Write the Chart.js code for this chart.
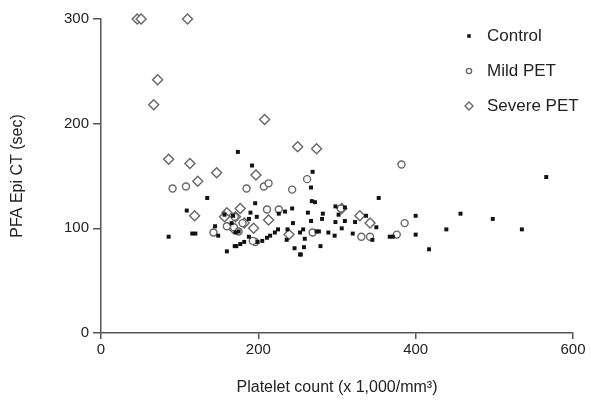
<!DOCTYPE html>
<html>
<head>
<meta charset="utf-8">
<script src="https://cdn.jsdelivr.net/npm/chart.js@4.4.0/dist/chart.umd.min.js"></script>
<style>
  body { margin: 0; background: #fff; }
  #wrap { width: 591px; height: 400px; }
</style>
</head>
<body>
<div id="wrap"><canvas id="mycanvas" width="591" height="400"></canvas></div>
<script>
// values: [platelet count, PFA Epi CT]
var controlPts = [
  [174,173],[192,160],[135,129],[109,117],[86,92],[116,95],[120,95],[145,102],[149,93],
  [157,113],[172,83],[160,78],[269,154],[267,139],[196,124],[268,126],[272,125],[353,129],
  [243,119],[298,121],[310,120],[566,149],[400,112],[457,114],[498,109],[439,99],[535,99],
  [400,94],[417,80],[371,92],[263,115],[282,114],[302,113],[323,106],[337,112],[350,101],
  [267,107],[281,109],[298,106],[310,107],[306,100],[257,99],[274,97],[277,97],[289,96],
  [297,93],[320,95],[345,89],[367,92],[259,90],[279,83],[258,82],[253,75],[190,115],
  [198,111],[168,112],[166,105],[188,109],[226,114],[234,116],[244,105],[253,96],[237,99],
  [225,99],[221,96],[215,93],[211,91],[205,88],[199,87],[188,92],[182,87],[177,85],
  [170,83],[254,75],[246,81],[236,89],[171,96],[175,97]
];
var mildPts = [
  [91,138],[108,140],[143,96],[170,111],[169,101],[185,138],[207,140],[213,143],[243,137],
  [262,147],[211,118],[226,118],[305,119],[269,96],[196,87],[180,105],[331,92],[342,92],
  [376,94],[382,161],[386,105],[160,102],[175,97],[193,88]
];
var severePts = [
  [46,300],[51,300],[110,300],[72,242],[67,218],[208,204],[86,166],[113,162],[147,153],
  [123,145],[250,178],[274,176],[197,151],[119,112],[160,115],[177,119],[171,111],[194,100],
  [213,108],[239,94],[306,119],[329,112],[342,105],[182,105],[168,100],[157,111]
];
var seriesNames = ['Control', 'Mild PET', 'Severe PET'];
var xTicks = [0, 200, 400, 600];
var yTicks = [0, 100, 200, 300];

function toXY(list) {
  return list.map(function(p){ return {x: p[0], y: p[1]}; });
}

// legend drawn inside the plot, top right
var legendSizes = [2.5, 2.6, 4];
var innerLegend = {
  id: 'innerLegend',
  afterDraw: function(chart) {
    var ctx = chart.ctx;
    ctx.save();
    ctx.font = '17px "Liberation Sans", Arial, sans-serif';
    ctx.textBaseline = 'middle';
    chart.data.datasets.forEach(function(ds, i){
      var y = 36 + i * 35;
      ctx.fillStyle = ds.pointBackgroundColor;
      ctx.strokeStyle = ds.pointBorderColor;
      ctx.lineWidth = ds.pointBorderWidth;
      Chart.helpers.drawPoint(ctx, {pointStyle: ds.pointStyle, radius: legendSizes[i], borderWidth: ds.pointBorderWidth}, 469, y);
      ctx.fillStyle = '#222';
      ctx.fillText(seriesNames[i], 487, y);
    });
    ctx.restore();
  }
};

var ctx = document.getElementById('mycanvas');
var chart = new Chart(ctx, {
  type: 'scatter',
  data: {
    datasets: [{
      label: seriesNames[0],
      data: toXY(controlPts),
      pointStyle: 'rect',
      pointRadius: 2.8,
      pointBackgroundColor: '#111',
      pointBorderColor: '#111',
      pointBorderWidth: 0
    }, {
      label: seriesNames[1],
      data: toXY(mildPts),
      pointStyle: 'circle',
      pointRadius: 3.5,
      pointBackgroundColor: '#fff',
      pointBorderColor: '#666',
      pointBorderWidth: 1.4
    }, {
      label: seriesNames[2],
      data: toXY(severePts),
      pointStyle: 'rectRot',
      pointRadius: 5,
      pointBackgroundColor: '#fff',
      pointBorderColor: '#666',
      pointBorderWidth: 1.4
    }]
  },
  options: {
    responsive: false,
    animation: false,
    clip: false,
    layout: { padding: { left: 0, right: 18, top: 19, bottom: 0 } },
    plugins: { legend: { display: false }, tooltip: { enabled: false } },
    scales: {
      x: {
        type: 'linear', min: 0, max: 600,
        afterBuildTicks: function(s){ s.ticks = xTicks.map(function(v){ return {value: v}; }); },
        afterFit: function(s){ s.height = 67; },
        border: { color: '#555', width: 1.5 },
        grid: { drawOnChartArea: false, color: '#555', tickLength: 6, lineWidth: 1.5 },
        ticks: { color: '#222', padding: 2, font: { family: '"Liberation Sans", Arial, sans-serif', size: 15 } },
        title: { display: true, text: 'Platelet count (x 1,000/mm\u00B3)', color: '#222',
                 padding: { top: 0, bottom: 3 },
                 font: { family: '"Liberation Sans", Arial, sans-serif', size: 16 } }
      },
      y: {
        type: 'linear', min: 0, max: 300,
        afterBuildTicks: function(s){ s.ticks = yTicks.map(function(v){ return {value: v}; }); },
        afterFit: function(s){ s.width = 101; },
        border: { color: '#555', width: 1.5 },
        grid: { drawOnChartArea: false, color: '#555', tickLength: 8, lineWidth: 1.5 },
        ticks: { color: '#222', padding: 4, font: { family: '"Liberation Sans", Arial, sans-serif', size: 15 } },
        title: { display: true, text: 'PFA Epi CT (sec)', color: '#222',
                 padding: { top: 8, bottom: 0 },
                 font: { family: '"Liberation Sans", Arial, sans-serif', size: 16 } }
      }
    }
  },
  plugins: [innerLegend]
});
</script>
</body>
</html>
